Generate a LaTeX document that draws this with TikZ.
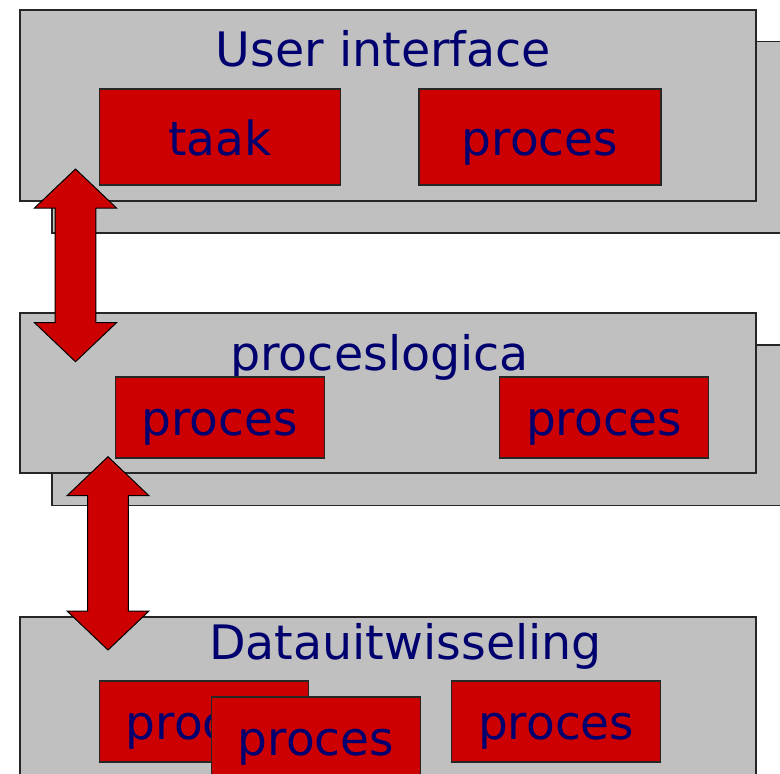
\documentclass[tikz,border=0pt]{standalone}
\usepackage{fontspec}
\setmainfont{DejaVu Sans}

\definecolor{layergray}{RGB}{192,192,192}
\definecolor{procred}{RGB}{204,0,0}
\definecolor{textnavy}{RGB}{0,0,110}

\tikzset{
  layer/.style={draw=black!85, line width=1.2pt, fill=layergray},
  procbox/.style={draw=black!85, line width=1.2pt, fill=procred, inner sep=0pt,
    text height=36pt, text depth=0pt, text=textnavy,
    font=\fontsize{47pt}{47pt}\selectfont, minimum width=209pt, minimum height=81pt},
  layertitle/.style={anchor=base, inner sep=0pt, text=textnavy,
    font=\fontsize{47.5pt}{47.5pt}\selectfont},
  fatarrow/.style={draw=black, line width=1pt, fill=procred, line join=miter}
}

% double arrow between two tips (#1 top, #2 bottom)
\newcommand{\dubbelpijl}[2]{%
  \draw [fatarrow] (#1) -- ([shift={(41,39)}]#1) -- ([shift={(20.3,39)}]#1)
    -- ([shift={(20.3,-39)}]#2) -- ([shift={(41,-39)}]#2) -- (#2)
    -- ([shift={(-41,-39)}]#2) -- ([shift={(-20.3,-39)}]#2)
    -- ([shift={(-20.3,39)}]#1) -- ([shift={(-41,39)}]#1) -- cycle;}

\begin{document}
\begin{tikzpicture}[x=1pt,y=-1pt]
  \useasboundingbox (0,0) rectangle (780,774);
  % user interface layer
  \draw [layer] (52,41.7) rectangle (800,233);
  \draw [layer] (20,10) rectangle (756,201);
  \node [layertitle] (uititle) at (383.5,66) {User interface};
  \node [procbox, minimum width=240.5pt, minimum height=96pt] (taak) at (220,137) {taak};
  \node [procbox, minimum width=242pt, minimum height=96pt] (uiproces) at (540,137) {proces};
  % proceslogica layer
  \draw [layer] (52,345) rectangle (800,505.7);
  \draw [layer] (20,313) rectangle (756,473);
  \node [layertitle] (logtitle) at (379.5,370.7) {proceslogica};
  \node [procbox] (logproces1) at (219.7,417.4) {proces};
  \node [procbox] (logproces2) at (604.2,417.4) {proces};
  % datauitwisseling layer
  \draw [layer] (20,617) rectangle (756,840);
  \node [layertitle] (datatitle) at (405.5,659) {Datauitwisseling};
  \node [procbox] (dataproces1) at (204,721.5) {proces};
  \node [procbox] (dataproces2) at (316,737.5) {proces};
  \node [procbox] (dataproces3) at (556.2,721.5) {proces};
  % arrows between the layers
  \coordinate (pijl1top) at (75.5,169);
  \coordinate (pijl1bot) at (75.5,361.7);
  \coordinate (pijl2top) at (108,456.7);
  \coordinate (pijl2bot) at (108,650);
  \dubbelpijl{pijl1top}{pijl1bot}
  \dubbelpijl{pijl2top}{pijl2bot}
\end{tikzpicture}
\end{document}
